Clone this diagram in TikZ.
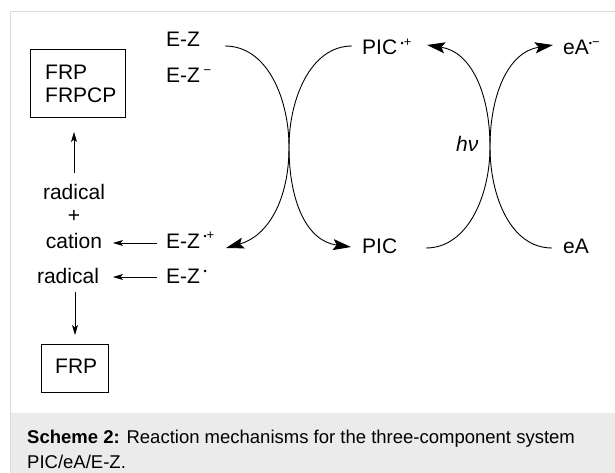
\documentclass[tikz,border=0pt]{standalone}
\usepackage{fontspec}
\setmainfont{Liberation Sans}
\usetikzlibrary{arrows.meta}
\newcommand{\spr}[1]{\raisebox{0.42em}{\fontsize{13}{13}\selectfont #1}}
\newcommand{\rdot}{{\fontsize{9}{9}\selectfont •}}
\definecolor{framegray}{HTML}{DADADA}
\definecolor{capgray}{HTML}{EBEBEB}
\begin{document}
\begin{tikzpicture}[x=1pt,y=-1pt,
  lbl/.style={inner sep=0pt, anchor=base west, font=\fontsize{21}{24}\selectfont},
  clbl/.style={inner sep=0pt, anchor=base, font=\fontsize{21}{24}\selectfont},
  box/.style={draw, line width=0.9pt},
  bigarrow/.style={line width=0.9pt, -{Stealth[length=18pt,width=11pt,inset=3.5pt]}},
  smallarrow/.style={line width=0.9pt, -{Stealth[length=10pt,width=6pt,inset=2.5pt]}},
  capfont/.style={inner sep=0pt, anchor=base west, align=left, font=\fontsize{18.5}{24}\selectfont}]
\useasboundingbox (0,0) rectangle (615,473);
% frame and caption background
\fill[capgray] (10,413) rectangle (615,473);
\draw[framegray, line width=1pt] (10,473) -- (10,12) -- (615,12);
% left boxes
\draw[box] (30,49) rectangle (125,117);
\node[lbl] (frp1) at (45,80) {FRP};
\node[lbl] (frpcp) at (45,103) {FRPCP};
\draw[box] (41,344) rectangle (108,392);
\node[lbl] (frp2) at (55,373) {FRP};
\coordinate (box1b) at (74,132);
\coordinate (box2t) at (75,335);
% left column texts
\node[clbl] (rad1) at (74,200) {radical};
\node[clbl] (plus) at (74,222) {+};
\node[clbl] (cat) at (74,248) {cation};
\node[clbl] (rad2) at (68,283) {radical};
% E-Z species
\node[lbl] (ez) at (166,47) {E-Z};
\node[lbl] (ezm) at (166,83) {E-Z\,\spr{−}};
\node[lbl] (ezp) at (166,248) {E-Z\,\spr{\rdot+}};
\node[lbl] (ezr) at (166,283) {E-Z\,\spr{\rdot}};
% PIC species
\node[lbl] (picp) at (362,55) {PIC\,\spr{\rdot+}};
\node[lbl] (pic) at (362,253) {PIC};
% eA species
\node[lbl] (eam) at (563,55) {eA\spr{\rdot−}};
\node[lbl] (ea) at (563,253) {eA};
\node[lbl] (hv) at (456,152) {\itshape hν};
% straight arrows
\draw[smallarrow] (rad1.north |- 0,173) -- (box1b);
\draw[smallarrow] (box2t |- 0,292) -- (box2t);
\draw[smallarrow] (157,243) -- (113,243);
\draw[smallarrow] (157,277) -- (113,277);
% crossing curves, left pair
\coordinate (xl) at (289,147);
\draw[bigarrow]
  (225,46) .. controls (268,46) and (289,100) .. (xl)
  .. controls (289,200) and (268,236) .. (226,248);
\draw[bigarrow]
  (352,46) .. controls (310,46) and (289,100) .. (xl)
  .. controls (289,200) and (306,241) .. (351,247);
% crossing curves, right pair
\coordinate (xr) at (490,147);
\draw[bigarrow]
  (426,248) .. controls (468,248) and (490,195) .. (xr)
  .. controls (490,95) and (472,52) .. (427,45);
\draw[bigarrow]
  (552,248) .. controls (510,248) and (490,195) .. (xr)
  .. controls (490,95) and (508,52) .. (553,45);
% caption
\node[capfont] (cap) at (27,443) {\textbf{Scheme 2:} Reaction mechanisms for the three-component system};
\node[capfont] (cap2) at (27,468) {PIC/eA/E-Z.};
\end{tikzpicture}
\end{document}
